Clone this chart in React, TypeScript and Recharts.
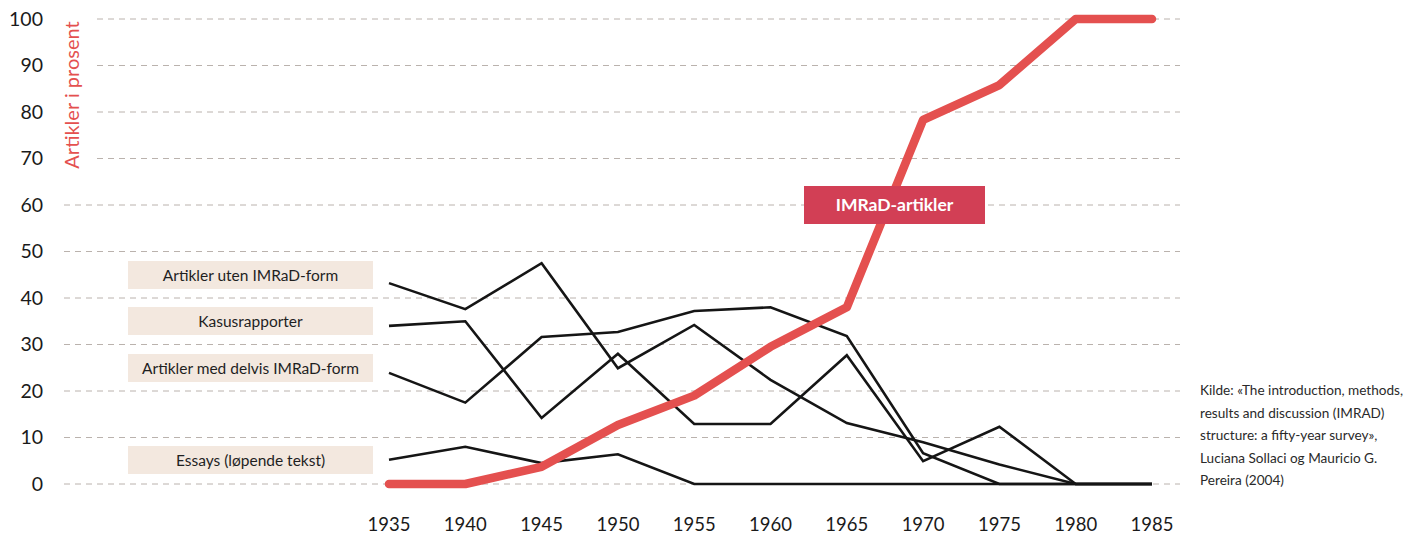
import { LineChart, Line, XAxis, YAxis, CartesianGrid } from 'recharts'

const years = ['1935', '1940', '1945', '1950', '1955', '1960', '1965', '1970', '1975', '1980', '1985']
const imradArtikler = [0, 0, 3.7, 12.7, 19, 29.5, 38, 78.3, 85.8, 100, 100]
const utenImrad = [43.2, 37.6, 47.5, 24.9, 34.2, 22.4, 13.1, 9, 4.2, 0, 0]
const kasusrapporter = [34, 35, 14.2, 28, 12.9, 12.9, 27.7, 4.9, 12.3, 0, 0]
const delvisImrad = [23.9, 17.5, 31.6, 32.7, 37.2, 38, 31.8, 6.6, 0, 0, 0]
const essays = [5.2, 8, 4.5, 6.4, 0, 0, 0, 0, 0, 0, 0]
const yTicks = [0, 10, 20, 30, 40, 50, 60, 70, 80, 90, 100]

const seriesLabels = [
  { text: 'Artikler uten IMRaD-form', top: 261 },
  { text: 'Kasusrapporter', top: 307 },
  { text: 'Artikler med delvis IMRaD-form', top: 354 },
  { text: 'Essays (løpende tekst)', top: 446 },
]

const sourceLines = [
  'Kilde: «The introduction, methods,',
  'results and discussion (IMRAD)',
  'structure: a fifty-year survey»,',
  'Luciana Sollaci og Mauricio G.',
  'Pereira (2004)',
]

const RED = '#e4504f'
const FONT = 'Lato, "Open Sans", sans-serif'

export default function App() {
  const data = years.map((y, i) => ({
    year: y,
    imrad: imradArtikler[i],
    uten: utenImrad[i],
    kasus: kasusrapporter[i],
    delvis: delvisImrad[i],
    essays: essays[i],
  }))

  const black = { stroke: '#151515', strokeWidth: 2.6, dot: false, isAnimationActive: false, type: 'linear' as const }

  return (
    <div style={{ position: 'absolute', left: 0, top: 0, width: 1405, height: 534, fontFamily: FONT, background: '#fff' }}>
      <LineChart width={1405} height={534} data={data} margin={{ top: 19, right: 225, bottom: 0, left: 0 }}>
        <CartesianGrid vertical={false} stroke="#bab2ad" strokeDasharray="6 5" />
        <XAxis
          dataKey="year"
          axisLine={false}
          tickLine={false}
          tickSize={0}
          tickMargin={34}
          height={50}
          interval={0}
          padding={{ left: 325, right: 28 }}
          tick={{ fill: '#1a1a1a', fontSize: 18.5, fontFamily: FONT }}
        />
        <YAxis
          domain={[0, 100]}
          ticks={yTicks}
          width={64}
          axisLine={false}
          tickLine={false}
          tickSize={0}
          tickMargin={21}
          tick={{ fill: '#1a1a1a', fontSize: 19.5, fontFamily: FONT }}
        />
        <Line dataKey="uten" {...black} />
        <Line dataKey="kasus" {...black} />
        <Line dataKey="delvis" {...black} />
        <Line dataKey="essays" {...black} />
        <Line
          dataKey="imrad"
          type="linear"
          stroke={RED}
          strokeWidth={8.5}
          strokeLinecap="round"
          strokeLinejoin="round"
          dot={false}
          isAnimationActive={false}
        />
      </LineChart>

      <svg width={1405} height={534} style={{ position: 'absolute', left: 0, top: 0, pointerEvents: 'none' }}>
        <rect x={54} y={8} width={42} height={172} fill="#fff" />
        <text
          transform="translate(71,95) rotate(-90)"
          textAnchor="middle"
          dominantBaseline="central"
          fill={RED}
          fontSize={20}
          fontFamily={FONT}
        >
          Artikler i prosent
        </text>
      </svg>

      {seriesLabels.map(l => (
        <div
          key={l.text}
          style={{
            position: 'absolute',
            left: 128,
            top: l.top,
            width: 245,
            height: 28,
            lineHeight: '28px',
            background: '#f3e8df',
            color: '#1f1f1f',
            fontSize: 15.5,
            textAlign: 'center',
          }}
        >
          {l.text}
        </div>
      ))}

      <div
        style={{
          position: 'absolute',
          left: 804,
          top: 186,
          width: 181,
          height: 38,
          lineHeight: '38px',
          background: '#d23f55',
          color: '#fff',
          fontWeight: 700,
          fontSize: 17.5,
          textAlign: 'center',
        }}
      >
        IMRaD-artikler
      </div>

      <div
        style={{
          position: 'absolute',
          left: 1200,
          top: 379,
          fontSize: 13.6,
          lineHeight: '22.5px',
          color: '#2a2a2a',
          whiteSpace: 'nowrap',
        }}
      >
        {sourceLines.map(s => (
          <div key={s}>{s}</div>
        ))}
      </div>
    </div>
  )
}
